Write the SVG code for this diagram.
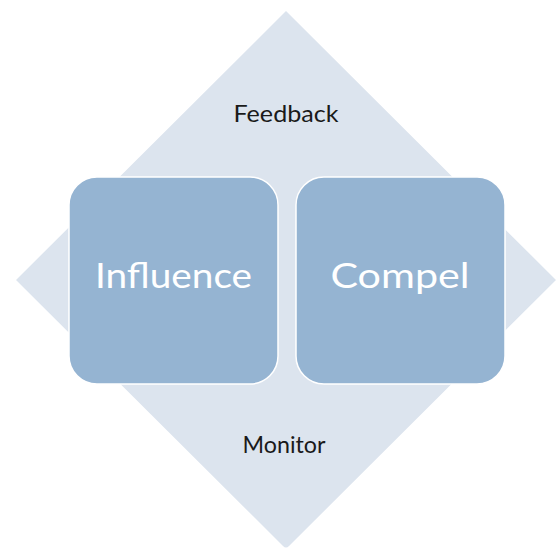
<svg xmlns="http://www.w3.org/2000/svg" width="557" height="548" viewBox="0 0 557 548">
  <style>
    .backdrop { fill: #DCE4EE; }
    .card { fill: #95B4D2; stroke: #FFFFFF; stroke-width: 1.5; }
    .label { font-family: Lato, "Open Sans", "Liberation Sans", sans-serif; fill: #1A1A1A; font-size: 23px; text-anchor: middle; }
    .card-label { font-family: Lato, "Open Sans", "Liberation Sans", sans-serif; fill: #FFFFFF; font-size: 35px; text-anchor: middle; }
  </style>
  <rect width="557" height="548" fill="#FFFFFF"/>

  <!-- diamond backdrop with its two labels -->
  <g id="cycle">
    <path class="backdrop" d="M286 11 L556 280 L289 546 Q286 549 283 546 L16 280 Z"/>
    <text class="label" x="286" y="122" textLength="105" lengthAdjust="spacingAndGlyphs">Feedback</text>
    <text class="label" x="284" y="453" textLength="83" lengthAdjust="spacingAndGlyphs">Monitor</text>
  </g>

  <g id="influence">
    <rect class="card" x="69" y="177" width="209" height="207" rx="28" ry="28"/>
    <text class="card-label" x="173.5" y="288" textLength="157" lengthAdjust="spacingAndGlyphs">Influence</text>
  </g>

  <g id="compel">
    <rect class="card" x="296" y="177" width="209" height="207" rx="28" ry="28"/>
    <text class="card-label" x="400" y="288" textLength="139" lengthAdjust="spacingAndGlyphs">Compel</text>
  </g>
</svg>
